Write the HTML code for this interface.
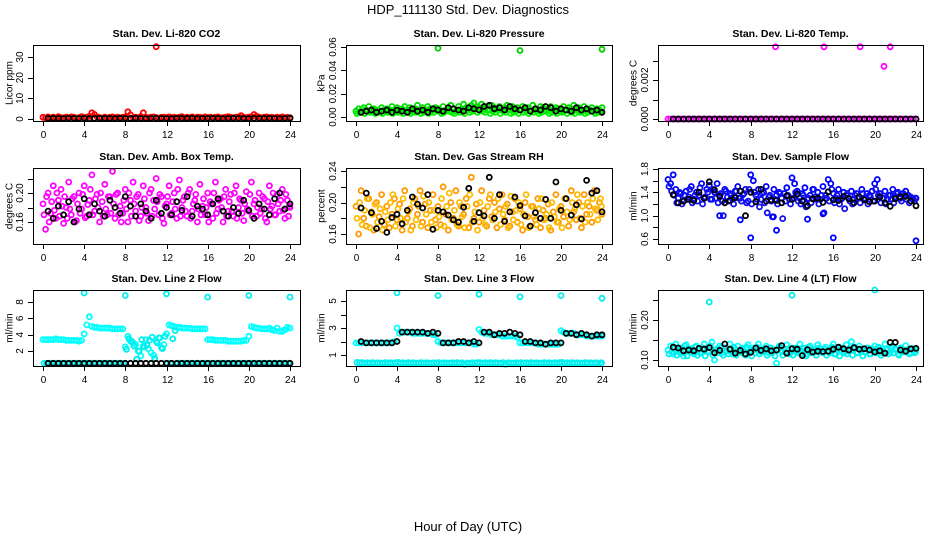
<!DOCTYPE html>
<html><head><meta charset="utf-8"><style>
html,body{margin:0;padding:0;background:#fff;}
svg{display:block;font-family:"Liberation Sans",Arial,sans-serif;}
</style></head><body>
<svg id="fig" width="936" height="540" viewBox="0 0 936 540">
<text x="468" y="14" text-anchor="middle" font-size="13">HDP_111130  Std. Dev. Diagnostics</text>
<text x="468" y="531" text-anchor="middle" font-size="13">Hour of Day (UTC)</text>
</svg>
<script>
// shared hour grids
const hours=[0,0.25,0.5,0.75,1,1.25,1.5,1.75,2,2.25,2.5,2.75,3,3.25,3.5,3.75,4,4.25,4.5,4.75,5,5.25,5.5,5.75,6,6.25,6.5,6.75,7,7.25,7.5,7.75,8,8.25,8.5,8.75,9,9.25,9.5,9.75,10,10.25,10.5,10.75,11,11.25,11.5,11.75,12,12.25,12.5,12.75,13,13.25,13.5,13.75,14,14.25,14.5,14.75,15,15.25,15.5,15.75,16,16.25,16.5,16.75,17,17.25,17.5,17.75,18,18.25,18.5,18.75,19,19.25,19.5,19.75,20,20.25,20.5,20.75,21,21.25,21.5,21.75,22,22.25,22.5,22.75,23,23.25,23.5,23.75,24];
const hoursB=[0.1,0.35,0.6,0.85,1.1,1.35,1.6,1.85,2.1,2.35,2.6,2.85,3.1,3.35,3.6,3.85,4.1,4.35,4.6,4.85,5.1,5.35,5.6,5.85,6.1,6.35,6.6,6.85,7.1,7.35,7.6,7.85,8.1,8.35,8.6,8.85,9.1,9.35,9.6,9.85,10.1,10.35,10.6,10.85,11.1,11.35,11.6,11.85,12.1,12.35,12.6,12.85,13.1,13.35,13.6,13.85,14.1,14.35,14.6,14.85,15.1,15.35,15.6,15.85,16.1,16.35,16.6,16.85,17.1,17.35,17.6,17.85,18.1,18.35,18.6,18.85,19.1,19.35,19.6,19.85,20.1,20.35,20.6,20.85,21.1,21.35,21.6,21.85,22.1,22.35,22.6,22.85,23.1,23.35,23.6,23.85,23.95];
const hoursK=[0.5,1,1.5,2,2.5,3,3.5,4,4.5,5,5.5,6,6.5,7,7.5,8,8.5,9,9.5,10,10.5,11,11.5,12,12.5,13,13.5,14,14.5,15,15.5,16,16.5,17,17.5,18,18.5,19,19.5,20,20.5,21,21.5,22,22.5,23,23.5,24];

// P1 CO2
const co2A=[0.8,0.5,1.0,0.6,0.9,0.4,1.1,0.7,0.5,0.9,0.6,1.0,0.8,0.5,0.7,1.1,0.6,0.9,1.3,3.0,2.2,1.0,0.7,0.5,0.9,0.6,0.8,1.0,0.7,0.9,0.5,0.8,1.0,3.5,2.0,0.6,0.9,0.7,1.2,3.0,0.8,0.6,0.9,1.0,0.7,0.5,0.8,0.9,0.6,1.0,0.7,0.8,0.5,0.9,1.1,0.6,0.8,0.7,1.0,0.5,0.9,0.8,0.6,1.0,0.7,0.9,0.5,0.8,1.0,0.6,0.7,0.9,1.1,0.8,0.6,0.9,1.0,1.6,0.8,0.7,0.9,1.1,2.2,1.4,0.8,0.6,0.9,1.0,0.7,0.8,0.5,0.9,0.7,1.0,0.6,0.8,0.7];
const co2OutH=[11];const co2OutV=[35];
const co2K=[0.3,0.4,0.3,0.2,0.4,0.3,0.3,0.4,0.2,0.3,0.4,0.3,0.3,0.2,0.4,0.3,0.3,0.4,0.3,0.2,0.3,0.4,0.3,0.3,0.2,0.4,0.3,0.3,0.4,0.2,0.3,0.3,0.4,0.3,0.2,0.3,0.4,0.3,0.3,0.2,0.4,0.3,0.3,0.4,0.3,0.2,0.3,0.4];
// P2 pressure
const prA=[0.005,0.007,0.004,0.008,0.006,0.009,0.005,0.007,0.006,0.004,0.008,0.006,0.007,0.005,0.009,0.006,0.008,0.005,0.007,0.009,0.006,0.008,0.005,0.007,0.010,0.006,0.008,0.005,0.009,0.007,0.006,0.008,0.007,0.005,0.009,0.006,0.008,0.010,0.007,0.005,0.009,0.006,0.011,0.008,0.007,0.010,0.012,0.009,0.008,0.011,0.007,0.009,0.006,0.010,0.008,0.007,0.009,0.006,0.008,0.010,0.007,0.009,0.005,0.008,0.006,0.009,0.007,0.008,0.005,0.010,0.007,0.006,0.009,0.008,0.005,0.007,0.009,0.006,0.008,0.007,0.005,0.009,0.006,0.008,0.007,0.010,0.006,0.008,0.005,0.009,0.007,0.006,0.008,0.005,0.007,0.006,0.008];
const prB=[0.003,0.004,0.006,0.003,0.005,0.004,0.006,0.003,0.005,0.004,0.003,0.005,0.004,0.006,0.003,0.005,0.004,0.006,0.003,0.005,0.004,0.003,0.006,0.004,0.005,0.003,0.004,0.006,0.003,0.005,0.004,0.006,0.005,0.003,0.004,0.006,0.005,0.004,0.003,0.006,0.004,0.005,0.003,0.006,0.004,0.005,0.007,0.004,0.006,0.005,0.004,0.006,0.003,0.005,0.004,0.006,0.003,0.005,0.004,0.006,0.003,0.004,0.005,0.003,0.006,0.004,0.005,0.003,0.006,0.004,0.005,0.003,0.004,0.006,0.005,0.003,0.004,0.006,0.003,0.005,0.004,0.006,0.003,0.005,0.004,0.003,0.006,0.004,0.005,0.003,0.004,0.006,0.005,0.003,0.004,0.005,0.004];
const prOutH=[8,16,24];const prOutV=[0.059,0.057,0.058];
const prK=[0.004,0.005,0.006,0.004,0.005,0.006,0.004,0.006,0.005,0.004,0.007,0.005,0.006,0.004,0.007,0.006,0.005,0.008,0.007,0.006,0.005,0.008,0.007,0.006,0.009,0.010,0.007,0.008,0.006,0.009,0.007,0.006,0.008,0.005,0.007,0.006,0.009,0.008,0.005,0.007,0.006,0.005,0.008,0.006,0.007,0.005,0.006,0.004];
// P3 temp
const tpA=[0,0,0,0,0,0,0,0,0,0,0,0,0,0,0,0,0,0,0,0,0,0,0,0,0,0,0,0,0,0,0,0,0,0,0,0,0,0,0,0,0,0,0,0,0,0,0,0,0,0,0,0,0,0,0,0,0,0,0,0,0,0,0,0,0,0,0,0,0,0,0,0,0,0,0,0,0,0,0,0,0,0,0,0,0,0,0,0,0,0,0,0,0,0,0,0,0];
const tpOutH=[10.4,15.1,18.6,21.5,20.9];const tpOutV=[0.0037,0.0037,0.0037,0.0037,0.0027];
const tpK=[0,0,0,0,0,0,0,0,0,0,0,0,0,0,0,0,0,0,0,0,0,0,0,0,0,0,0,0,0,0,0,0,0,0,0,0,0,0,0,0,0,0,0,0,0,0,0,0];
// P4 amb box temp
const abA=[0.185,0.150,0.200,0.172,0.210,0.165,0.190,0.205,0.158,0.180,0.215,0.170,0.195,0.162,0.200,0.178,0.210,0.168,0.190,0.225,0.175,0.198,0.160,0.188,0.212,0.170,0.195,0.230,0.165,0.200,0.182,0.172,0.205,0.160,0.190,0.215,0.175,0.198,0.168,0.210,0.180,0.162,0.205,0.190,0.220,0.170,0.195,0.158,0.185,0.210,0.172,0.200,0.165,0.218,0.180,0.195,0.168,0.205,0.175,0.190,0.160,0.212,0.182,0.170,0.200,0.188,0.165,0.215,0.178,0.192,0.160,0.205,0.175,0.198,0.168,0.210,0.180,0.190,0.162,0.202,0.175,0.215,0.185,0.168,0.200,0.178,0.192,0.160,0.210,0.182,0.170,0.198,0.175,0.205,0.165,0.190,0.180];
const abB=[0.170,0.195,0.160,0.188,0.176,0.200,0.168,0.182,0.195,0.165,0.178,0.192,0.160,0.185,0.172,0.198,0.166,0.184,0.205,0.170,0.192,0.180,0.200,0.168,0.178,0.195,0.172,0.185,0.198,0.170,0.160,0.190,0.178,0.200,0.168,0.185,0.195,0.162,0.180,0.192,0.172,0.200,0.168,0.178,0.188,0.198,0.165,0.182,0.195,0.170,0.188,0.178,0.205,0.168,0.190,0.175,0.200,0.165,0.185,0.198,0.178,0.170,0.192,0.180,0.160,0.185,0.200,0.172,0.190,0.180,0.195,0.168,0.188,0.175,0.200,0.165,0.192,0.172,0.185,0.178,0.198,0.168,0.190,0.180,0.172,0.195,0.165,0.188,0.178,0.200,0.170,0.185,0.190,0.176,0.198,0.168,0.182];
const abK=[0.175,0.165,0.182,0.170,0.188,0.160,0.178,0.192,0.170,0.185,0.175,0.168,0.190,0.180,0.172,0.195,0.182,0.168,0.185,0.175,0.165,0.190,0.172,0.180,0.170,0.188,0.176,0.195,0.168,0.182,0.178,0.170,0.185,0.192,0.175,0.168,0.180,0.172,0.190,0.176,0.165,0.185,0.178,0.170,0.192,0.200,0.178,0.185];
// P5 gas RH
const rhA=[0.195,0.160,0.215,0.180,0.170,0.205,0.188,0.165,0.200,0.182,0.210,0.172,0.195,0.168,0.185,0.205,0.178,0.198,0.165,0.215,0.180,0.192,0.170,0.205,0.185,0.215,0.175,0.198,0.168,0.190,0.210,0.178,0.195,0.172,0.220,0.185,0.165,0.200,0.180,0.215,0.170,0.195,0.185,0.205,0.168,0.232,0.180,0.198,0.175,0.215,0.190,0.170,0.205,0.182,0.200,0.168,0.192,0.210,0.178,0.198,0.170,0.188,0.205,0.175,0.192,0.165,0.200,0.182,0.170,0.195,0.178,0.205,0.168,0.190,0.180,0.198,0.165,0.188,0.210,0.175,0.195,0.182,0.205,0.170,0.215,0.188,0.178,0.200,0.168,0.210,0.185,0.195,0.175,0.215,0.190,0.200,0.185];
const rhB=[0.180,0.200,0.172,0.190,0.205,0.168,0.185,0.198,0.175,0.192,0.165,0.188,0.178,0.200,0.210,0.170,0.192,0.180,0.205,0.175,0.188,0.165,0.200,0.178,0.195,0.170,0.208,0.185,0.200,0.175,0.190,0.168,0.182,0.205,0.170,0.195,0.212,0.178,0.190,0.172,0.200,0.182,0.168,0.195,0.210,0.175,0.188,0.165,0.200,0.180,0.172,0.195,0.210,0.178,0.188,0.205,0.172,0.185,0.195,0.168,0.208,0.178,0.190,0.200,0.172,0.185,0.210,0.168,0.195,0.182,0.172,0.192,0.205,0.178,0.185,0.168,0.200,0.182,0.175,0.192,0.168,0.205,0.188,0.178,0.200,0.192,0.210,0.180,0.195,0.175,0.200,0.185,0.205,0.192,0.178,0.205,0.195];
const rhK=[0.193,0.212,0.187,0.167,0.176,0.162,0.181,0.185,0.173,0.190,0.207,0.198,0.193,0.210,0.166,0.190,0.188,0.184,0.178,0.175,0.194,0.218,0.176,0.187,0.183,0.232,0.180,0.210,0.176,0.188,0.207,0.196,0.183,0.170,0.187,0.180,0.204,0.180,0.226,0.190,0.205,0.184,0.197,0.179,0.228,0.212,0.215,0.188];
// P6 sample flow
const sfA=[1.62,1.55,1.70,1.45,1.30,1.38,1.25,1.42,1.32,1.50,1.28,1.40,1.35,1.55,1.30,1.45,1.52,1.28,1.40,1.55,1.35,1.25,1.45,1.32,1.38,1.28,1.42,1.50,1.30,1.36,1.45,1.25,1.70,1.60,1.35,1.45,1.28,1.40,1.50,1.32,1.25,1.45,1.35,1.40,1.30,1.38,1.48,1.28,1.65,1.55,1.42,1.30,1.38,1.48,1.28,1.35,1.45,1.32,1.40,1.28,1.50,1.35,1.62,1.55,1.38,1.30,1.45,1.28,1.40,1.35,1.30,1.42,1.28,1.38,1.32,1.45,1.30,1.38,1.35,1.42,1.55,1.62,1.38,1.30,1.42,1.28,1.35,1.45,1.32,1.40,1.30,1.38,1.42,1.35,1.32,1.28,1.30];
const sfB=[1.50,1.42,1.35,1.22,1.40,1.20,1.35,1.28,1.45,1.22,1.35,1.25,1.48,1.20,1.32,1.40,1.28,1.45,1.30,1.22,1.38,1.00,1.42,1.25,1.35,1.20,1.42,1.30,1.25,1.38,1.22,1.45,1.20,1.40,1.28,1.15,1.38,1.22,1.05,1.35,0.98,1.28,1.20,1.38,0.95,1.25,1.35,1.20,1.30,1.40,1.25,1.20,1.35,1.15,1.30,1.22,1.45,1.28,1.20,1.35,1.05,1.30,1.25,1.45,1.22,1.35,1.20,1.30,1.12,1.38,1.25,1.20,1.35,1.30,1.22,1.38,1.28,1.20,1.32,1.25,1.45,1.35,1.22,1.30,1.20,1.35,1.28,1.22,1.38,1.30,1.25,1.35,1.28,1.22,1.30,1.25,1.30];
const sfOutH=[8,10.5,16,24,5,7,13.5,15,10.2];const sfOutV=[0.62,0.75,0.62,0.57,1.00,0.93,0.94,1.03,0.98];
const sfK=[1.36,1.22,1.25,1.28,1.26,1.40,1.30,1.58,1.44,1.33,1.22,1.26,1.31,1.42,1.00,1.40,1.24,1.45,1.25,1.27,1.26,1.22,1.34,1.28,1.37,1.25,1.17,1.29,1.30,1.23,1.41,1.27,1.26,1.33,1.29,1.22,1.32,1.27,1.24,1.25,1.32,1.22,1.16,1.29,1.32,1.33,1.25,1.17];
// P7 line 2 flow
const l2A=[3.4,3.4,3.4,3.4,3.4,3.5,3.4,3.4,3.4,3.3,3.3,3.3,3.3,3.3,3.2,3.3,4.1,5.2,6.2,5.0,4.9,4.9,4.8,4.8,4.8,4.8,4.8,4.7,4.7,4.7,4.7,4.7,2.5,3.8,3.2,3.0,2.8,2.0,1.4,2.6,3.4,2.3,1.8,1.5,3.2,3.6,2.4,2.8,4.1,5.2,5.1,5.0,4.9,4.9,4.8,4.8,4.8,4.8,4.7,4.7,4.7,4.7,4.7,4.7,3.4,3.4,3.4,3.3,3.3,3.3,3.3,3.3,3.2,3.2,3.2,3.2,3.2,3.2,3.3,3.3,3.8,5.0,4.9,4.8,4.8,4.7,4.7,4.7,4.8,4.6,4.5,4.8,4.4,4.4,4.6,4.9,4.8];
const l2B=[0.5,0.5,0.5,0.5,0.5,0.5,0.5,0.5,0.5,0.5,0.5,0.5,0.5,0.5,0.5,0.5,0.5,0.5,0.5,0.5,0.5,0.5,0.5,0.5,0.5,0.5,0.5,0.5,0.5,0.5,0.5,0.5,2.2,3.5,3.2,2.6,1.0,2.0,3.4,2.5,2.7,3.3,3.7,1.1,3.0,3.6,2.3,3.8,0.5,0.5,3.5,4.5,0.5,0.5,0.5,0.5,0.5,0.5,0.5,0.5,0.5,0.5,0.5,0.5,0.5,0.5,0.5,0.5,0.5,0.5,0.5,0.5,0.5,0.5,0.5,0.5,0.5,0.5,0.5,0.5,0.5,0.5,0.5,0.5,0.5,0.5,0.5,0.5,0.5,0.5,0.5,0.5,0.5,0.5,0.5,0.5,0.5];
const l2OutH=[4,8,12,16,20,24];const l2OutV=[9.1,8.8,9.0,8.6,8.8,8.6];
const l2K=[0.5,0.5,0.5,0.5,0.5,0.5,0.5,0.5,0.5,0.5,0.5,0.5,0.5,0.5,0.5,0.5,0.5,0.5,0.5,0.5,0.5,0.5,0.5,0.5,0.5,0.5,0.5,0.5,0.5,0.5,0.5,0.5,0.5,0.5,0.5,0.5,0.5,0.5,0.5,0.5,0.5,0.5,0.5,0.5,0.5,0.5,0.5,0.5];
// P8 line 3 flow
const l3A=[1.9,1.9,1.9,1.9,1.9,1.9,1.9,1.9,1.9,1.9,1.9,1.9,1.9,1.9,1.9,2.0,3.0,2.6,2.7,2.7,2.7,2.7,2.6,2.6,2.6,2.6,2.6,2.6,2.6,2.6,2.5,2.5,2.0,1.9,1.9,1.9,1.9,1.9,1.9,1.9,1.9,1.9,1.9,1.9,1.9,1.9,1.8,1.8,2.9,2.7,2.6,2.6,2.6,2.5,2.5,2.5,2.5,2.4,2.4,2.4,2.4,2.4,2.4,2.3,1.9,1.9,1.9,1.9,1.9,1.9,1.9,1.8,1.8,1.8,1.8,1.8,1.8,1.8,1.8,1.8,2.8,2.7,2.6,2.6,2.6,2.6,2.5,2.5,2.5,2.5,2.4,2.4,2.4,2.4,2.4,2.4,2.4];
const l3B=[0.45,0.42,0.43,0.40,0.42,0.41,0.43,0.40,0.42,0.41,0.40,0.43,0.41,0.42,0.40,0.42,0.45,0.41,0.42,0.40,0.43,0.41,0.42,0.40,0.41,0.43,0.40,0.42,0.41,0.40,0.42,0.41,0.43,0.40,0.42,0.41,0.40,0.42,0.41,0.43,0.40,0.42,0.30,0.41,0.40,0.42,0.41,0.43,0.44,0.40,0.42,0.41,0.43,0.40,0.42,0.41,0.40,0.43,0.30,0.42,0.41,0.40,0.42,0.41,0.44,0.40,0.42,0.41,0.43,0.40,0.42,0.41,0.40,0.43,0.41,0.42,0.40,0.42,0.41,0.43,0.45,0.40,0.42,0.41,0.43,0.40,0.42,0.41,0.40,0.43,0.41,0.42,0.40,0.42,0.41,0.40,0.42];
const l3OutH=[4,8,12,16,20,24];const l3OutV=[5.6,5.4,5.5,5.3,5.4,5.2];
const l3K=[2.0,1.9,1.9,1.9,1.9,1.9,1.9,2.0,2.7,2.7,2.7,2.7,2.7,2.6,2.7,2.6,1.9,1.9,1.9,2.0,2.0,1.9,2.0,1.9,2.7,2.7,2.5,2.6,2.6,2.7,2.6,2.5,2.0,2.0,1.9,1.9,1.8,1.9,1.9,1.9,2.6,2.6,2.5,2.6,2.5,2.4,2.5,2.5];
// P9 line 4 flow
const l4A=[0.125,0.135,0.115,0.140,0.120,0.130,0.110,0.138,0.122,0.128,0.115,0.135,0.125,0.118,0.140,0.130,0.120,0.145,0.100,0.128,0.135,0.118,0.130,0.122,0.140,0.115,0.128,0.135,0.120,0.130,0.112,0.138,0.125,0.130,0.118,0.140,0.122,0.128,0.135,0.118,0.130,0.125,0.092,0.135,0.120,0.128,0.138,0.115,0.130,0.125,0.118,0.140,0.122,0.130,0.115,0.135,0.128,0.120,0.138,0.125,0.118,0.132,0.122,0.128,0.140,0.115,0.130,0.125,0.118,0.138,0.122,0.146,0.128,0.118,0.135,0.125,0.120,0.130,0.115,0.128,0.135,0.122,0.130,0.118,0.140,0.125,0.120,0.135,0.128,0.115,0.130,0.122,0.136,0.125,0.118,0.128,0.125];
const l4B=[0.115,0.120,0.132,0.112,0.125,0.118,0.135,0.110,0.128,0.120,0.132,0.112,0.118,0.130,0.110,0.122,0.135,0.112,0.125,0.118,0.130,0.112,0.122,0.115,0.128,0.132,0.112,0.120,0.128,0.115,0.132,0.120,0.110,0.125,0.132,0.115,0.120,0.128,0.112,0.130,0.118,0.110,0.125,0.132,0.112,0.120,0.128,0.118,0.112,0.130,0.120,0.115,0.128,0.110,0.132,0.118,0.125,0.112,0.130,0.120,0.128,0.112,0.118,0.132,0.115,0.125,0.110,0.130,0.120,0.115,0.128,0.112,0.132,0.118,0.125,0.110,0.120,0.130,0.115,0.125,0.118,0.132,0.112,0.120,0.128,0.115,0.130,0.118,0.125,0.112,0.130,0.120,0.125,0.115,0.128,0.118,0.120];
const l4OutH=[4,12,20];const l4OutV=[0.245,0.262,0.275];
const l4K=[0.132,0.130,0.123,0.125,0.123,0.129,0.127,0.131,0.118,0.124,0.140,0.127,0.117,0.124,0.115,0.119,0.130,0.124,0.128,0.123,0.125,0.136,0.117,0.128,0.127,0.111,0.126,0.120,0.122,0.121,0.122,0.127,0.132,0.128,0.125,0.131,0.127,0.128,0.125,0.120,0.123,0.117,0.144,0.144,0.125,0.122,0.128,0.129];

const svg=document.getElementById('fig');
const NS='http://www.w3.org/2000/svg';
function el(tag,attrs,parent){const e=document.createElementNS(NS,tag);for(const k in attrs)e.setAttribute(k,attrs[k]);(parent||svg).appendChild(e);return e;}

const colBox=[[33,300,43,290],[346,612,356,602],[658,923,668,916]];
const rowBox=[[45,121],[168,244],[290,366]];
const ylabX=[10,322,634];

const panels=[
 {id:'co2',title:'Stan. Dev. Li-820 CO2',ylab:'Licor ppm',c:0,r:0,ya:[0,119,30,57],ticks:[0,10,20,30],labels:[0,10,20,30],fmt:v=>String(v),
  series:[{h:hours,v:co2A,col:'#ff0000'},{h:co2OutH,v:co2OutV,col:'#ff0000'},{h:hoursK,v:co2K,col:'#000'}]},
 {id:'pressure',title:'Stan. Dev. Li-820 Pressure',ylab:'kPa',c:1,r:0,ya:[0,117,0.06,47],ticks:[0,0.02,0.04,0.06],labels:[0,0.02,0.04,0.06],fmt:v=>v.toFixed(2),
  series:[{h:hours,v:prA,col:'#00dd00'},{h:hoursB,v:prB,col:'#00ee00'},{h:prOutH,v:prOutV,col:'#00cc00'},{h:hoursK,v:prK,col:'#000'}]},
 {id:'temp',title:'Stan. Dev. Li-820 Temp.',ylab:'degrees C',c:2,r:0,ya:[0,119,0.002,80],ticks:[0,0.001,0.002,0.003],labels:[0,0.002],fmt:v=>v.toFixed(3),
  series:[{h:hours,v:tpA,col:'#ff00ff'},{h:tpOutH,v:tpOutV,col:'#ff00ff'},{h:hoursK,v:tpK,col:'#000'}]},
 {id:'ambbox',title:'Stan. Dev. Amb. Box Temp.',ylab:'degrees C',c:0,r:1,ya:[0.16,222,0.20,193],ticks:[0.16,0.18,0.20,0.22],labels:[0.16,0.20],fmt:v=>v.toFixed(2),
  series:[{h:hours,v:abA,col:'#ff00ff'},{h:hoursB,v:abB,col:'#ff00ff'},{h:hoursK,v:abK,col:'#000'}]},
 {id:'gasrh',title:'Stan. Dev. Gas Stream RH',ylab:'percent',c:1,r:1,ya:[0.16,234,0.24,171],ticks:[0.16,0.18,0.20,0.22,0.24],labels:[0.16,0.20,0.24],fmt:v=>v.toFixed(2),
  series:[{h:hours,v:rhA,col:'#ff9900'},{h:hoursB,v:rhB,col:'#ffbb00'},{h:hoursK,v:rhK,col:'#000'}]},
 {id:'sampleflow',title:'Stan. Dev. Sample Flow',ylab:'ml/min',c:2,r:1,ya:[0.6,239,1.8,169],ticks:[0.6,0.8,1.0,1.2,1.4,1.6,1.8],labels:[0.6,1.0,1.4,1.8],fmt:v=>v.toFixed(1),
  series:[{h:hours,v:sfA,col:'#0000ff'},{h:hoursB,v:sfB,col:'#1010ee'},{h:sfOutH,v:sfOutV,col:'#0000ff'},{h:hoursK,v:sfK,col:'#000'}]},
 {id:'line2',title:'Stan. Dev. Line 2 Flow',ylab:'ml/min',c:0,r:2,ya:[2,351,8,302],ticks:[2,4,6,8],labels:[2,4,6,8],fmt:v=>String(v),
  series:[{h:hours,v:l2A,col:'#00ffff'},{h:hoursB,v:l2B,col:'#00eeee'},{h:l2OutH,v:l2OutV,col:'#00eeee'},{h:hoursK,v:l2K,col:'#000'}]},
 {id:'line3',title:'Stan. Dev. Line 3 Flow',ylab:'ml/min',c:1,r:2,ya:[1,355,5,301],ticks:[1,2,3,4,5],labels:[1,3,5],fmt:v=>String(v),
  series:[{h:hours,v:l3A,col:'#00ffff'},{h:hoursB,v:l3B,col:'#00eeee'},{h:l3OutH,v:l3OutV,col:'#00eeee'},{h:hoursK,v:l3K,col:'#000'}]},
 {id:'line4',title:'Stan. Dev. Line 4 (LT) Flow',ylab:'ml/min',c:2,r:2,ya:[0.10,360,0.20,320],ticks:[0.10,0.15,0.20,0.25],labels:[0.10,0.20],fmt:v=>v.toFixed(2),
  series:[{h:hours,v:l4A,col:'#00ffff'},{h:hoursB,v:l4B,col:'#00eeee'},{h:l4OutH,v:l4OutV,col:'#00eeee'},{h:hoursK,v:l4K,col:'#000'}]}
];
const xTicks=[0,4,8,12,16,20,24];

panels.forEach(p=>{
  const [bx0,bx1,x0,x24]=colBox[p.c];const [by0,by1]=rowBox[p.r];
  const xs=h=>x0+(x24-x0)*h/24;
  const ys=v=>p.ya[1]+(v-p.ya[0])*(p.ya[3]-p.ya[1])/(p.ya[2]-p.ya[0]);
  const g=el('g',{});
  
  
  const t=el('text',{x:(bx0+bx1)/2,y:by0-8,'text-anchor':'middle','font-size':'10.5','font-weight':'bold'},g);
  t.textContent=p.title;
  
  
  const yl=el('text',{x:ylabX[p.c],y:(by0+by1)/2,'text-anchor':'middle','font-size':'10',transform:`rotate(-90 ${ylabX[p.c]} ${(by0+by1)/2})`,'dominant-baseline':'middle'},g);
  yl.textContent=p.ylab;
  
  
  const pg=el('g',{fill:'none','stroke-width':'1.8'},g);
  
  
  p.series.forEach(s=>{
    const n=Math.min(s.h.length,s.v.length);
    for(let i=0;i<n;i++){
      const c=el('circle',{cx:xs(s.h[i]).toFixed(1),cy:ys(s.v[i]).toFixed(1),r:2.5,stroke:s.col},pg);
      
      
    }
  });
  const b=el('rect',{x:bx0+0.5,y:by0+0.5,width:bx1-bx0,height:by1-by0,fill:'none',stroke:'#000','stroke-width':'1'},g);
  
  
  const xa=el('g',{},g);
  
  
  el('line',{x1:xs(0),x2:xs(24),y1:by1+0.5,y2:by1+0.5,stroke:'#000'},xa);
  xTicks.forEach(h=>{
    const x=Math.round(xs(h))+0.5;
    el('line',{x1:x,x2:x,y1:by1,y2:by1+5,stroke:'#000'},xa);
    const tl=el('text',{x:x,y:by1+17,'text-anchor':'middle','font-size':'10'},xa);
    tl.textContent=h;
    
    
  });
  const ya=el('g',{},g);
  
  
  p.ticks.forEach(v=>{
    const y=Math.round(ys(v))+0.5;
    el('line',{x1:bx0-5,x2:bx0,y1:y,y2:y,stroke:'#000'},ya);
  });
  p.labels.forEach(v=>{
    const y=ys(v);const lx=bx0-10;
    const tl=el('text',{x:lx,y:y,'text-anchor':'middle','font-size':'10',transform:`rotate(-90 ${lx} ${y})`},ya);
    tl.textContent=p.fmt(v);
    
    
  });
});
</script>
</body></html>
